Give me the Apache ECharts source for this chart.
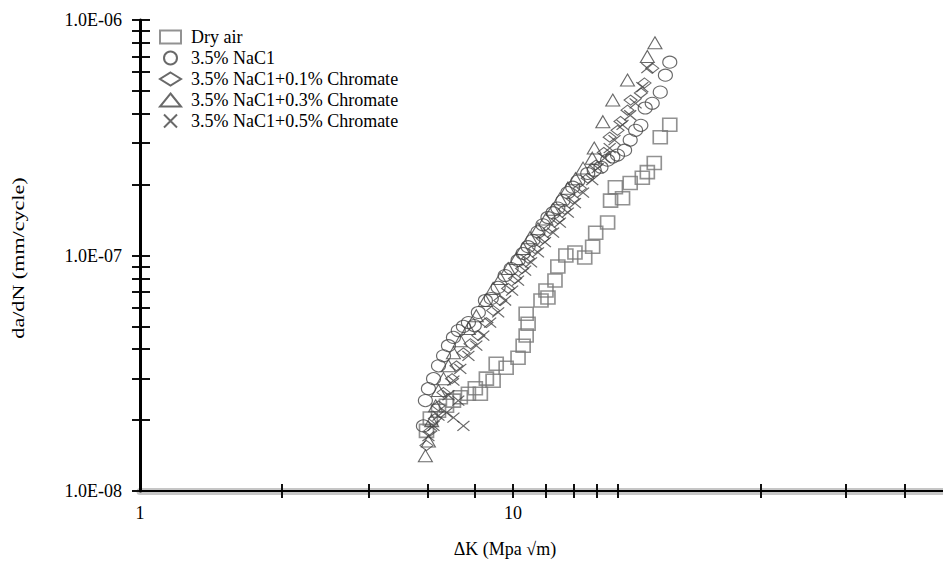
<!DOCTYPE html>
<html><head><meta charset="utf-8">
<script src="https://cdn.jsdelivr.net/npm/echarts@6/dist/echarts.min.js"></script>
<style>html,body{margin:0;padding:0;background:#fff}#c{width:943px;height:564px}</style>
</head><body><div id="c"></div>
<script>
// ---- data (ΔK in MPa√m, da/dN in mm/cycle) ----
const seriesNames = ['Dry air', '3.5% NaC1', '3.5% NaC1+0.1% Chromate', '3.5% NaC1+0.3% Chromate', '3.5% NaC1+0.5% Chromate'];

const dryAir = [
  [5.86,1.80e-8],[6.0,2.03e-8],[6.31,2.19e-8],[6.63,2.30e-8],[6.92,2.42e-8],[7.22,2.50e-8],[7.59,2.59e-8],
  [7.92,2.73e-8],[8.17,2.59e-8],[8.48,3.0e-8],[8.84,2.94e-8],[9.01,3.47e-8],[9.58,3.34e-8],[10.31,3.68e-8],
  [10.64,4.14e-8],[10.84,4.57e-8],[10.97,5.13e-8],[10.84,5.66e-8],[11.88,6.44e-8],[12.40,6.63e-8],[12.25,7.10e-8],
  [12.95,7.83e-8],[13.18,8.98e-8],[13.85,1.0e-7],[14.65,1.03e-7],[15.56,9.8e-8],[16.34,1.09e-7],[16.65,1.25e-7],
  [17.92,1.38e-7],[18.25,1.71e-7],[18.8,1.95e-7],[19.65,1.75e-7],[20.6,2.03e-7],[22.2,2.14e-7],[22.9,2.26e-7],
  [23.9,2.47e-7],[24.8,3.18e-7],[26.3,3.59e-7]
];
const nacl = [
  [5.75,1.89e-8],[5.82,2.42e-8],[5.93,2.72e-8],[6.12,3.0e-8],[6.31,3.40e-8],[6.51,3.75e-8],[6.71,4.14e-8],
  [6.92,4.49e-8],[7.13,4.80e-8],[7.36,5.0e-8],[7.59,5.19e-8],[7.87,5.04e-8],[8.07,5.73e-8],[8.43,6.44e-8],
  [8.74,6.57e-8],[9.12,7.32e-8],[9.52,8.22e-8],[9.88,8.80e-8],[10.31,9.53e-8],[10.64,1.02e-7],[10.97,1.09e-7],
  [11.3,1.16e-7],[11.66,1.26e-7],[12.02,1.35e-7],[12.4,1.45e-7],[12.8,1.52e-7],[13.18,1.59e-7],[13.6,1.71e-7],
  [14.02,1.85e-7],[14.45,1.95e-7],[14.91,2.07e-7],[15.85,2.23e-7],[16.5,2.30e-7],[17.2,2.37e-7],[17.92,2.54e-7],
  [18.5,2.62e-7],[19.05,2.67e-7],[19.9,2.80e-7],[20.6,3.09e-7],[21.3,3.40e-7],[22.0,3.57e-7],[22.6,4.23e-7],
  [23.6,4.43e-7],[24.8,4.94e-7],[25.6,5.83e-7],[26.3,6.62e-7]
];
const chromate01 = [
  [5.86,1.56e-8],[6.0,1.80e-8],[6.17,2.03e-8],[6.31,2.30e-8],[6.51,2.62e-8],[6.86,3.0e-8],[7.05,3.40e-8],
  [7.36,3.86e-8],[7.69,4.22e-8],[8.07,4.57e-8],[8.48,5.19e-8],[8.84,5.84e-8],[9.24,6.44e-8],[9.70,7.25e-8],
  [10.12,7.98e-8],[10.57,8.80e-8],[10.97,9.72e-8],[11.45,1.07e-7],[12.02,1.18e-7],[12.55,1.30e-7],[13.18,1.43e-7],
  [13.75,1.57e-7],[14.45,1.74e-7],[15.1,1.93e-7],[15.85,2.13e-7],[16.65,2.42e-7],[17.5,2.74e-7],[18.15,3.18e-7],
  [19.05,3.40e-7],[19.4,3.71e-7],[20.26,4.14e-7],[20.65,4.57e-7],[22.0,4.9e-7],[22.5,5.4e-7],[23.6,6.24e-7]
];
const chromate03 = [
  [5.82,1.41e-8],[5.93,1.63e-8],[6.05,1.99e-8],[6.2,2.30e-8],[6.31,2.67e-8],[6.51,3.0e-8],[6.71,3.40e-8],
  [6.92,3.86e-8],[7.22,4.35e-8],[7.59,4.9e-8],[7.97,5.55e-8],[8.43,6.44e-8],[8.84,7.25e-8],[9.24,7.98e-8],
  [9.70,8.80e-8],[10.2,9.7e-8],[10.64,1.07e-7],[11.1,1.19e-7],[11.66,1.30e-7],[12.25,1.43e-7],[12.8,1.57e-7],
  [13.35,1.74e-7],[14.02,1.93e-7],[14.7,2.12e-7],[15.4,2.35e-7],[16.3,2.59e-7],[16.5,2.86e-7],[17.4,3.70e-7],
  [18.5,4.57e-7],[20.26,5.56e-7],[22.9,7.0e-7],[24.0,8.0e-7]
];
const chromate05 = [
  [5.93,1.71e-8],[6.12,1.89e-8],[6.31,2.09e-8],[6.63,2.15e-8],[6.92,2.05e-8],[7.36,1.89e-8],[7.13,2.42e-8],
  [6.71,2.55e-8],[6.92,2.94e-8],[7.22,3.30e-8],[7.59,3.75e-8],[7.97,4.14e-8],[8.32,4.57e-8],[8.68,5.19e-8],
  [9.12,5.73e-8],[9.52,6.44e-8],[9.94,7.10e-8],[10.31,7.83e-8],[10.77,8.63e-8],[11.17,9.35e-8],[11.66,1.03e-7],
  [12.17,1.14e-7],[12.8,1.25e-7],[13.35,1.38e-7],[14.02,1.52e-7],[14.65,1.67e-7],[15.4,1.85e-7],[16.3,2.09e-7],
  [16.85,2.35e-7],[17.6,2.59e-7],[18.15,2.86e-7],[18.7,3.09e-7],[19.65,3.59e-7],[20.6,3.94e-7],[21.3,4.43e-7],
  [22.2,5.19e-7],[22.9,6.25e-7]
];

// tick marks and labels
const xTickValues = [2.4, 4.1, 5.9, 7.9, 10, 12.2, 14.5, 16.8, 19.1, 46, 78, 112];
const xTickLabels = ['1', '10'];            // at 10^0, 10^1
const yTickValues = [1e-8,2e-8,3e-8,4e-8,5e-8,6e-8,7e-8,8e-8,9e-8,1e-7,2e-7,3e-7,4e-7,5e-7,6e-7,7e-7,8e-7,9e-7,1e-6];
const yTickLabels = ['1.0E-08', '1.0E-07', '1.0E-06']; // at 1e-8, 1e-7, 1e-6
const xTitle = 'ΔK (Mpa √m)';
const yTitle = 'da/dN (mm/cycle)';

// ---- chart ----
const FONT = "'Liberation Serif','Times New Roman',serif";
const X_MIN = 1, X_MAX = 142, Y_MIN = 1e-8, Y_MAX = 1e-6;
const chart = echarts.init(document.getElementById('c'), null, {renderer: 'svg'});

function helperX(inside, line) {
  return {
    type: 'value', gridIndex: 0, position: 'bottom', min: Math.log10(X_MIN), max: Math.log10(X_MAX),
    axisLine: line ? {show: true, onZero: false, lineStyle: {color: '#c6c6c6', width: 7}} : {show: false, onZero: false},
    axisLabel: {show: false}, splitLine: {show: false},
    axisTick: {show: true, inside: inside, length: 7, customValues: xTickValues.map(Math.log10),
      lineStyle: {color: '#111', width: 2}}
  };
}
function helperY(inside, len) {
  return {
    type: 'value', gridIndex: 0, position: 'left', min: Math.log10(Y_MIN), max: Math.log10(Y_MAX),
    axisLine: {show: false, onZero: false}, axisLabel: {show: false}, splitLine: {show: false},
    axisTick: {show: true, inside: inside, length: len, customValues: yTickValues.map(Math.log10),
      lineStyle: {color: '#111', width: 2}}
  };
}

const hollow = 'rgba(255,255,255,0)';
const symbols = [
  {symbol: 'rect', size: [14, 13], color: '#777', width: 1.6, icon: 'rect'},
  {symbol: 'circle', size: [14, 12], color: '#444', width: 1.1, icon: 'circle'},
  {symbol: 'diamond', size: [13, 10], color: '#444', width: 1.1, icon: 'diamond'},
  {symbol: 'triangle', size: [14, 12], color: '#444', width: 1.1, icon: 'triangle'},
  {symbol: 'path://M0,0L10,10M10,0L0,10', size: [12, 10], color: '#444', width: 1.2, icon: 'path://M0,0L10,10M10,0L0,10'}
];
const dataSets = [dryAir, nacl, chromate01, chromate03, chromate05];

const series = dataSets.map((d, i) => ({
  name: seriesNames[i], type: 'scatter', xAxisIndex: 0, yAxisIndex: 0,
  data: d, symbol: symbols[i].symbol, symbolSize: symbols[i].size,
  itemStyle: {color: hollow, borderColor: symbols[i].color, borderWidth: symbols[i].width},
  emphasis: {disabled: true}, z: 2
}));

chart.setOption({
  animation: false,
  backgroundColor: '#fff',
  grid: {left: 140, right: 0, top: 20, bottom: 73, containLabel: false},
  legend: {
    orient: 'vertical', left: 159, top: 28, padding: 0, itemWidth: 21, itemHeight: 13, itemGap: 3,
    selectedMode: false,
    textStyle: {fontFamily: FONT, fontSize: 18, color: '#000', lineHeight: 18, padding: [0, 0, 0, 5]},
    data: seriesNames.map((n, i) => ({name: n, icon: symbols[i].icon}))
  },
  xAxis: [
    {
      type: 'log', logBase: 10, min: X_MIN, max: X_MAX, position: 'bottom', z: 3,
      axisLine: {show: true, onZero: false, lineStyle: {color: '#000', width: 2}},
      axisTick: {show: false}, minorTick: {show: false}, splitLine: {show: false},
      axisLabel: {fontFamily: FONT, fontSize: 18, color: '#000', margin: 13, showMaxLabel: false,
        formatter: v => { const e = Math.round(Math.log10(v)); return (Math.abs(Math.log10(v) - e) < 1e-6 && xTickLabels[e] !== undefined) ? xTickLabels[e] : ''; }}
    },
    helperX(false, true),
    helperX(true, false)
  ],
  yAxis: [
    {
      type: 'log', logBase: 10, min: Y_MIN, max: Y_MAX, position: 'left', z: 3,
      axisLine: {show: true, onZero: false, lineStyle: {color: '#000', width: 3}},
      axisTick: {show: false}, minorTick: {show: false}, splitLine: {show: false},
      axisLabel: {fontFamily: FONT, fontSize: 18, color: '#000', margin: 18,
        formatter: v => { const e = Math.round(Math.log10(v)) + 8; return yTickLabels[e] !== undefined ? yTickLabels[e] : ''; }}
    },
    helperY(false, 8),
    helperY(true, 10)
  ],
  graphic: [
    {type: 'text', x: 505, y: 549, silent: true,
      style: {text: xTitle, font: '18px ' + FONT, fill: '#000', align: 'center', verticalAlign: 'middle'}},
    {type: 'text', x: 18, y: 258, rotation: Math.PI / 2, scaleX: 1.3, silent: true,
      style: {text: yTitle, font: '17px ' + FONT, fill: '#000', align: 'center', verticalAlign: 'middle'}}
  ],
  series: series
});
</script>
</body></html>
